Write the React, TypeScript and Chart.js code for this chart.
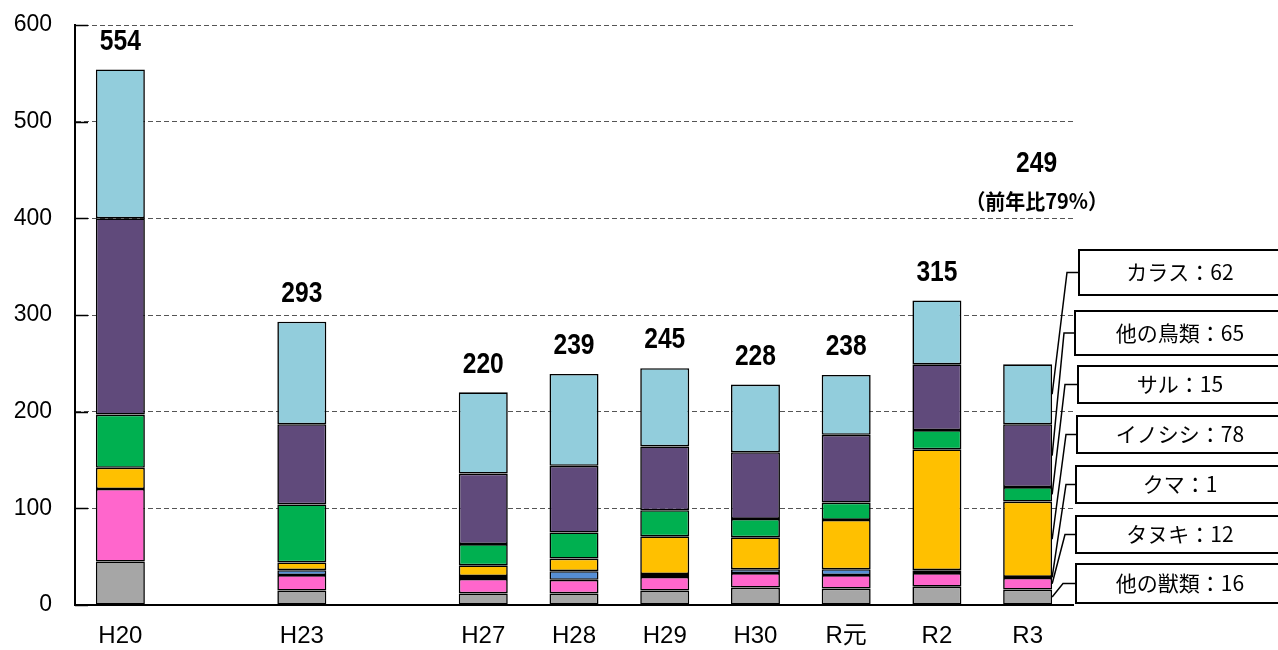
import React, { useEffect, useRef } from 'react';
import { Chart, registerables } from 'chart.js';

Chart.register(...registerables);

// ---- data ----
const categories = ['H20', '', 'H23', '', 'H27', 'H28', 'H29', 'H30', 'R元', 'R2', 'R3'];
const seriesNames = ['他の獣類', 'タヌキ', 'クマ', 'イノシシ', 'サル', '他の鳥類', 'カラス'];
const otherBeasts = [45, null, 15, null, 12, 12, 15, 18, 17, 19, 16];
const tanuki = [75, null, 16, null, 15, 14, 14, 15, 14, 14, 12];
const bear = [null, null, 5, null, 3, 9, 3, 4, 6, 3, 1];
const boar = [22, null, 8, null, 11, 13, 39, 33, 51, 125, 78];
const monkey = [55, null, 60, null, 22, 27, 27, 19, 18, 20, 15];
const otherBirds = [203, null, 83, null, 73, 69, 66, 69, 70, 68, 65];
const crows = [154, null, 106, null, 84, 95, 81, 70, 62, 66, 62];
const totals = [554, null, 293, null, 220, 239, 245, 228, 238, 315, 249];
const yTickValues = [0, 100, 200, 300, 400, 500, 600];
const ratioNote = '（前年比79%）';

// ---- styles / layout ----
const colors = ['#a6a6a6', '#ff66cc', '#558ed5', '#ffc000', '#00b050', '#604a7b', '#92cddc'];
const NARROW = '"Liberation Sans", "Noto Sans CJK JP", sans-serif';
const JP = '"Noto Sans CJK JP", "Liberation Sans", sans-serif';
// callout boxes (top -> bottom), dataset index + box geometry
const callouts = [
  { ds: 6, top: 250, h: 45, left: 1079, bend: 1067 },
  { ds: 5, top: 311, h: 44, left: 1075, bend: 1064 },
  { ds: 4, top: 366, h: 37, left: 1078, bend: 1065 },
  { ds: 3, top: 416, h: 37, left: 1077, bend: 1066 },
  { ds: 2, top: 466, h: 37, left: 1076, bend: 1066 },
  { ds: 1, top: 516, h: 37, left: 1076, bend: 1065 },
  { ds: 0, top: 564, h: 39, left: 1076, bend: 1063 },
];

const seriesData = [otherBeasts, tanuki, bear, boar, monkey, otherBirds, crows];

function condensedText(ctx: CanvasRenderingContext2D, text: string, x: number, y: number, sx: number) {
  ctx.save();
  ctx.translate(x, y);
  ctx.scale(sx, 1);
  ctx.fillText(text, 0, 0);
  ctx.restore();
}

const overlayPlugin = {
  id: 'overlay',
  afterDraw(chart: any) {
    const ctx = chart.ctx as CanvasRenderingContext2D;
    const y = chart.scales.y;
    const area = chart.chartArea;
    ctx.save();
    // inward tick marks on the y axis
    ctx.strokeStyle = '#000';
    ctx.lineWidth = 1.5;
    yTickValues.forEach((v) => {
      const py = Math.round(y.getPixelForValue(v)) + 0.5;
      ctx.beginPath();
      ctx.moveTo(area.left, py);
      ctx.lineTo(area.left + 13, py);
      ctx.stroke();
    });

    // totals
    const topMeta = chart.getDatasetMeta(6);
    const last = categories.length - 1;
    ctx.fillStyle = '#000';
    ctx.textAlign = 'center';
    ctx.textBaseline = 'middle';
    totals.forEach((t, i) => {
      if (t == null) return;
      const el = topMeta.data[i];
      ctx.font = `bold 30px "Liberation Sans", sans-serif`;
      if (i === last) {
        condensedText(ctx, String(t), el.x + 9, 164, 0.82);
        ctx.font = `bold 21px ${JP}`;
        condensedText(ctx, ratioNote, el.x + 9, 201, 0.95);
      } else {
        condensedText(ctx, String(t), el.x, el.y - 28, 0.82);
      }
    });

    // callouts for last category
    callouts.forEach((c) => {
      const el = chart.getDatasetMeta(c.ds).data[last];
      const midY = (el.y + el.base) / 2;
      const rx = el.x + el.width / 2;
      const by = c.top + c.h / 2;
      ctx.strokeStyle = '#000';
      ctx.lineWidth = 1.5;
      ctx.beginPath();
      ctx.moveTo(rx, midY);
      ctx.lineTo(c.bend, by);
      ctx.lineTo(c.left, by);
      ctx.stroke();
      ctx.fillStyle = '#fff';
      ctx.fillRect(c.left, c.top, 220, c.h);
      ctx.lineWidth = 2;
      ctx.strokeRect(c.left, c.top, 220, c.h);
      ctx.fillStyle = '#000';
      ctx.font = `21px ${JP}`;
      ctx.textAlign = 'center';
      ctx.textBaseline = 'middle';
      const val = seriesData[c.ds][last];
      ctx.fillText(`${seriesNames[c.ds]}：${val}`, 1180, by);
    });
    ctx.restore();
  },
};

export default function App() {
  const ref = useRef<HTMLCanvasElement | null>(null);
  useEffect(() => {
    if (!ref.current) return;
    const chart = new Chart(ref.current, {
      type: 'bar',
      data: {
        labels: categories,
        datasets: seriesData.map((d, i) => ({
          label: seriesNames[i],
          data: d,
          backgroundColor: colors[i],
          borderColor: '#000',
          borderWidth: 1.6,
          borderSkipped: false,
          barPercentage: 0.54,
          categoryPercentage: 1,
        })),
      },
      options: {
        responsive: false,
        animation: false,
        layout: { padding: { top: 25, right: 205, left: 0, bottom: 0 } },
        plugins: { legend: { display: false }, tooltip: { enabled: false } },
        scales: {
          x: {
            stacked: true,
            grid: { display: false },
            border: { display: true, color: '#000', width: 2 },
            ticks: {
              color: '#000',
              font: { family: NARROW, size: 24 },
              padding: 9,
              autoSkip: false,
              maxRotation: 0,
            },
            afterFit: (s: any) => {
              s.height = 45;
            },
          },
          y: {
            stacked: true,
            min: 0,
            max: 600,
            ticks: {
              stepSize: 100,
              color: '#000',
              font: { family: '"Liberation Sans", Arial, sans-serif', size: 23 },
              padding: 23,
            },
            grid: { color: '#555', lineWidth: 1, drawTicks: false },
            border: { display: true, color: '#000', width: 2, dash: [5, 3] },
            afterFit: (s: any) => {
              s.width = 75;
              s.paddingTop = 0;
              s.paddingBottom = 0;
            },
          },
        },
      },
      plugins: [overlayPlugin],
    });
    return () => chart.destroy();
  }, []);
  return (
    <div style={{ position: 'fixed', left: 0, top: 0, width: 1278, height: 650, background: '#fff' }}>
      <canvas ref={ref} width={1278} height={650} style={{ display: 'block' }} />
    </div>
  );
}
